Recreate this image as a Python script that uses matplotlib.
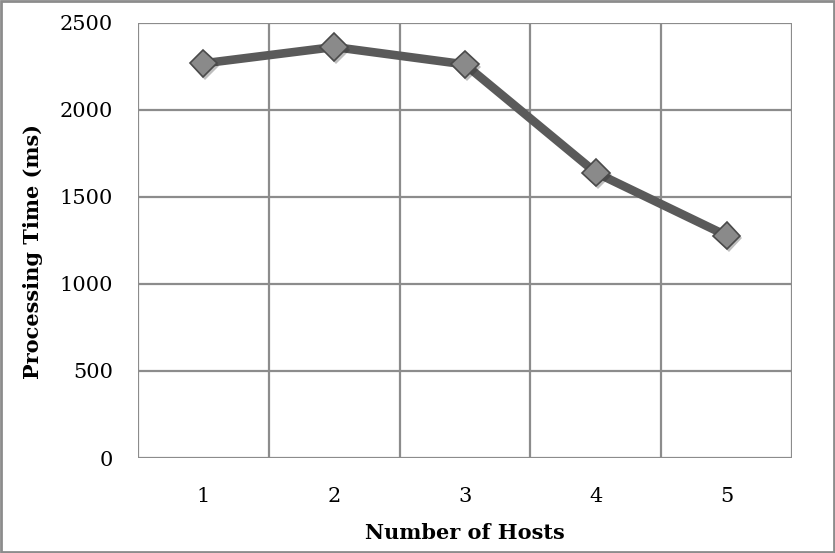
import matplotlib
matplotlib.use("Agg")
import matplotlib.pyplot as plt
import matplotlib.patheffects as pe
from matplotlib.patches import Rectangle

# data
hosts = [1, 2, 3, 4, 5]
processing_ms = [2268, 2362, 2262, 1640, 1278]
y_ticks = [0, 500, 1000, 1500, 2000, 2500]

plt.rcParams['font.family'] = ['DejaVu Serif']

fig = plt.figure(figsize=(8.35, 5.53), dpi=100)
ax = fig.add_axes([138 / 835, 1 - 458 / 553, 654 / 835, 435 / 553])

grid_color = '#8c8c8c'
ax.set_xlim(0.5, 5.5)
ax.set_ylim(0, 2500)

# category boundaries for the vertical grid
for xb in [0.5 + i for i in range(6)]:
    ax.axvline(xb, color=grid_color, lw=1.6, zorder=1)
for yv in y_ticks:
    ax.axhline(yv, color=grid_color, lw=1.6, zorder=1)

ax.plot(hosts, processing_ms, color='#5a5a5a', lw=6.2, zorder=3,
        solid_capstyle='butt')
ax.plot(hosts, processing_ms, linestyle='none', marker='D', markersize=14,
        markerfacecolor='#8a8a8a', markeredgecolor='#4a4a4a',
        markeredgewidth=1.2, zorder=4,
        path_effects=[pe.SimplePatchShadow(offset=(1.5, -2), alpha=0.3),
                      pe.Normal()])

for s in ax.spines.values():
    s.set_visible(False)
ax.set_xticks(hosts)
ax.set_yticks(y_ticks)
ax.tick_params(length=0, labelsize=15)
ax.tick_params(axis='y', pad=18)
ax.tick_params(axis='x', pad=21)

ax.set_xlabel('Number of Hosts', fontsize=15, fontweight='bold', labelpad=12)
ax.set_ylabel('Processing Time (ms)', fontsize=15, fontweight='bold')
ax.yaxis.set_label_coords(-0.146, 0.474)

# outer frame around the whole chart
fig.patches.append(Rectangle((0.0015, 0.002), 0.997, 0.996,
                             transform=fig.transFigure, fill=False,
                             edgecolor='#8c8c8c', lw=2))

fig.savefig('out.png', dpi=100)
